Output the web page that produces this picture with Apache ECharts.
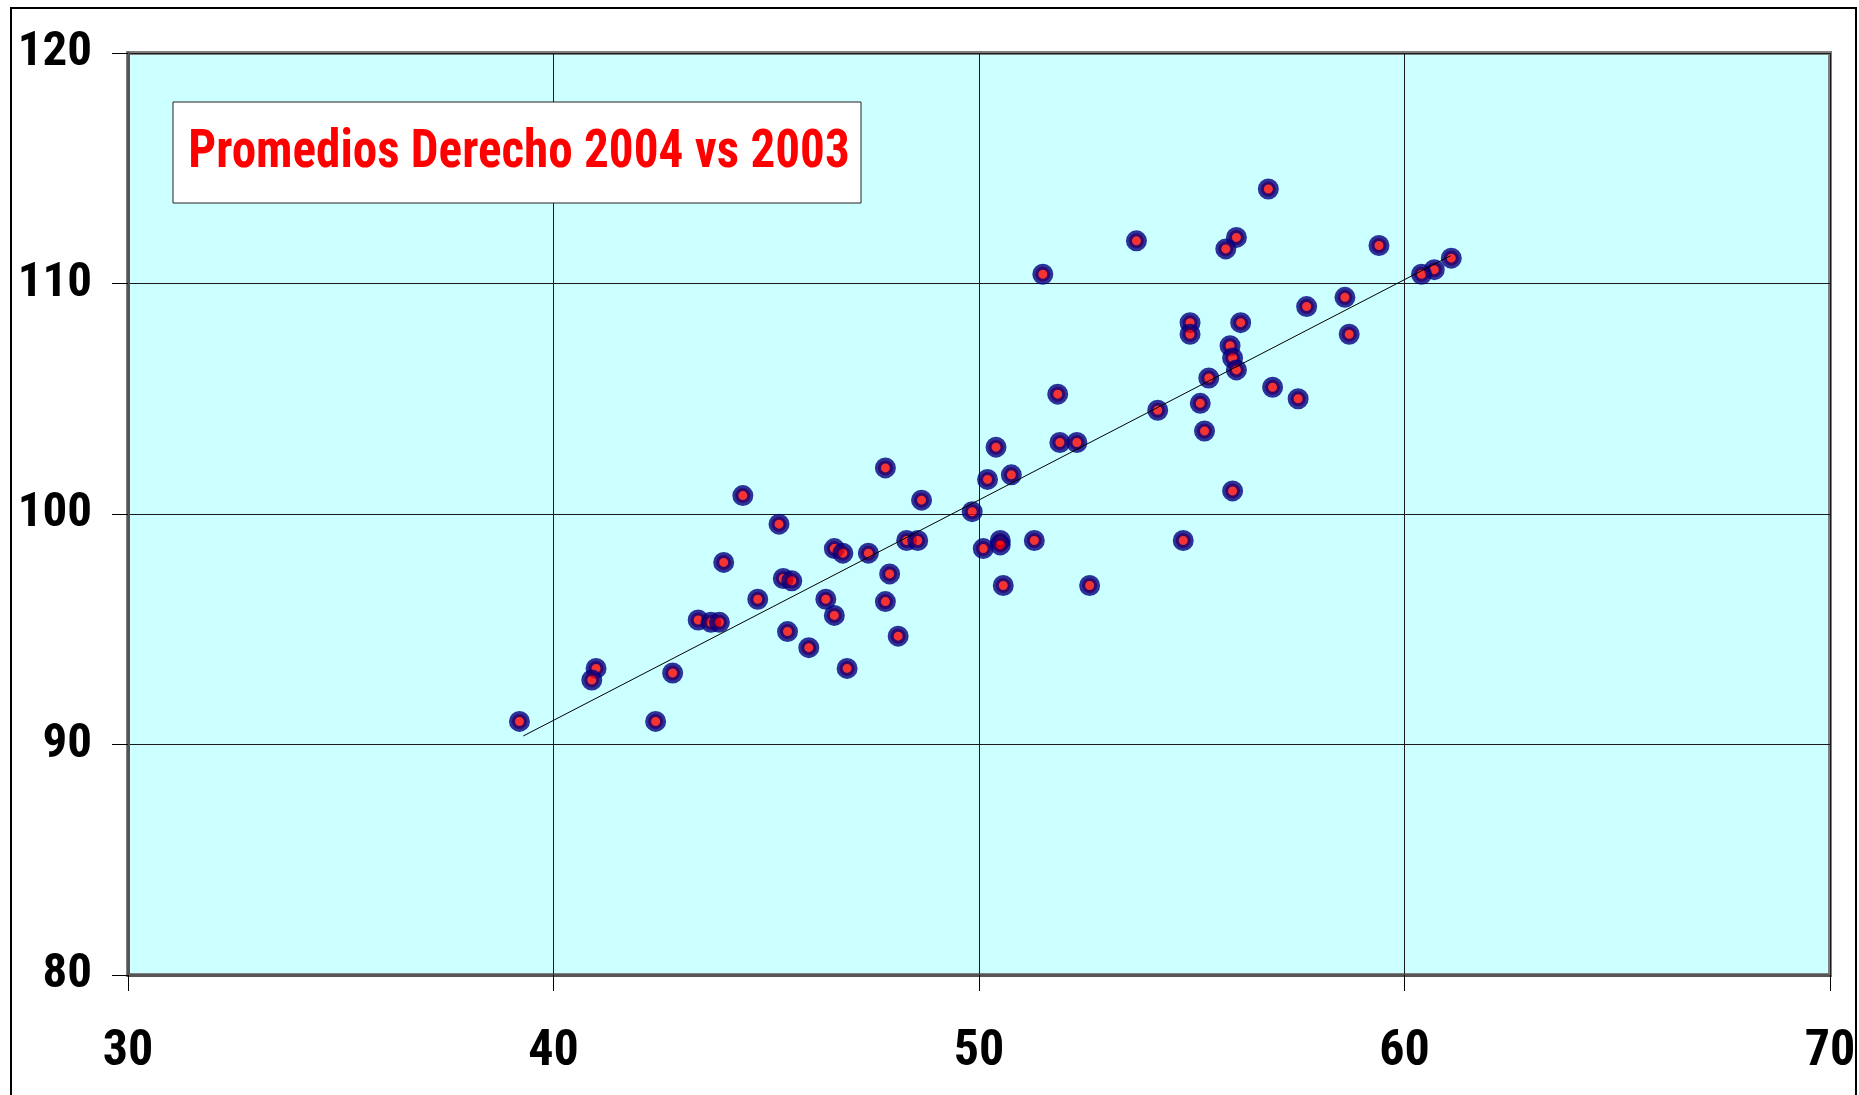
<!DOCTYPE html>
<html>
<head>
<meta charset="utf-8">
<script src="https://cdn.jsdelivr.net/npm/echarts@6/dist/echarts.min.js"></script>
<style>
html,body{margin:0;padding:0;background:#fff;}
#chart{width:1859px;height:1095px;}
</style>
</head>
<body>
<div id="chart"></div>
<script>
// Promedios 2003 (x) vs 2004 (y)
const xValues2003 = [39.2,41.0,40.9,42.4,42.8,43.4,43.7,43.9,44.0,44.45,44.8,45.3,45.4,45.6,45.5,46.0,46.4,46.6,46.6,
  46.8,46.9,47.4,47.8,47.9,47.8,48.1,48.3,48.56,48.65,49.84,50.1,50.5,50.5,50.4,50.2,50.76,50.57,51.3,52.6,51.9,52.3,
  51.5,53.7,51.85,54.2,
  56.8,56.05,55.8,59.4,61.1,60.7,60.4,58.6,57.7,54.96,54.96,56.15,58.7,55.9,55.96,56.05,55.4,55.2,56.9,57.5,55.3,
  55.96,54.8];
const yValues2004 = [91.0,93.3,92.8,91.0,93.1,95.4,95.3,95.3,97.9,100.8,96.3,99.56,97.2,97.1,94.9,94.2,96.3,98.5,95.6,
  98.3,93.3,98.3,102.0,97.4,96.2,94.7,98.85,98.85,100.6,100.1,98.5,98.85,98.66,102.9,101.5,101.7,96.9,98.85,96.9,103.1,103.1,
  110.4,111.85,105.2,104.5,
  114.1,112.0,111.5,111.65,111.1,110.6,110.4,109.4,109.0,108.3,107.8,108.3,107.8,107.3,106.77,106.25,105.9,104.8,105.5,105.0,103.6,
  101.0,98.85];
// Linear trend line end points
const trendX = [39.29, 61.08];
const trendY = [90.37, 111.2];
const xTicks = [30, 40, 50, 60, 70];
const yTicks = [80, 90, 100, 110, 120];
const titleText = 'Promedios Derecho 2004 vs 2003';

const narrow = "Roboto,'Open Sans',sans-serif";
const narrowWeight = 'bold condensed';
const points = xValues2003.map((x, i) => [x, yValues2004[i]]);
const trend = trendX.map((x, i) => [x, trendY[i]]);

const chart = echarts.init(document.getElementById('chart'), null, {renderer: 'canvas'});
chart.setOption({
  backgroundColor: '#ffffff',
  animation: false,
  grid: {
    left: 128, right: 29, top: 53, bottom: 120, containLabel: false, outerBoundsMode: 'none',
    show: true, backgroundColor: '#CCFFFF', borderColor: '#808080', borderWidth: 4
  },
  xAxis: {
    type: 'value', min: xTicks[0], max: xTicks[xTicks.length - 1], interval: 10,
    axisLine: {show: true, onZero: false, lineStyle: {color: '#555', width: 3}},
    axisTick: {show: true, inside: false, length: 16, lineStyle: {color: '#000', width: 1}},
    splitLine: {show: true, lineStyle: {color: '#1a1a1a', width: 1}},
    axisLabel: {margin: 52, color: '#000', fontSize: 50, fontWeight: narrowWeight, fontFamily: narrow}
  },
  yAxis: {
    type: 'value', min: yTicks[0], max: yTicks[yTicks.length - 1], interval: 10,
    axisLine: {show: true, onZero: false, lineStyle: {color: '#555', width: 3}},
    axisTick: {show: true, inside: false, length: 16, lineStyle: {color: '#000', width: 1}},
    splitLine: {show: true, lineStyle: {color: '#1a1a1a', width: 1}},
    axisLabel: {margin: 36, color: '#000', fontSize: 49, fontWeight: narrowWeight, fontFamily: narrow}
  },
  series: [
    {
      type: 'scatter', data: points, symbol: 'circle', symbolSize: 15, z: 3,
      itemStyle: {color: '#FF0000', borderColor: '#000080', borderWidth: 6}
    },
    {
      type: 'line', data: trend, symbol: 'none', z: 4, silent: true,
      lineStyle: {color: '#000', width: 1}
    }
  ],
  graphic: [
    {type: 'rect', z: 100, silent: true, shape: {x: 11, y: 8, width: 1845, height: 1100},
     style: {fill: 'none', stroke: '#000', lineWidth: 2}},
    {type: 'rect', z: 50, shape: {x: 173, y: 102, width: 688, height: 101},
     style: {fill: '#fff', stroke: '#222', lineWidth: 1}},
    {type: 'text', z: 51, x: 519, y: 153, scaleX: 0.91, originX: 0, originY: 0,
     style: {text: titleText, fill: '#FF0000', fontSize: 54, fontWeight: narrowWeight, fontFamily: narrow,
             textAlign: 'center', textVerticalAlign: 'middle'}}
  ]
});
</script>
</body>
</html>
